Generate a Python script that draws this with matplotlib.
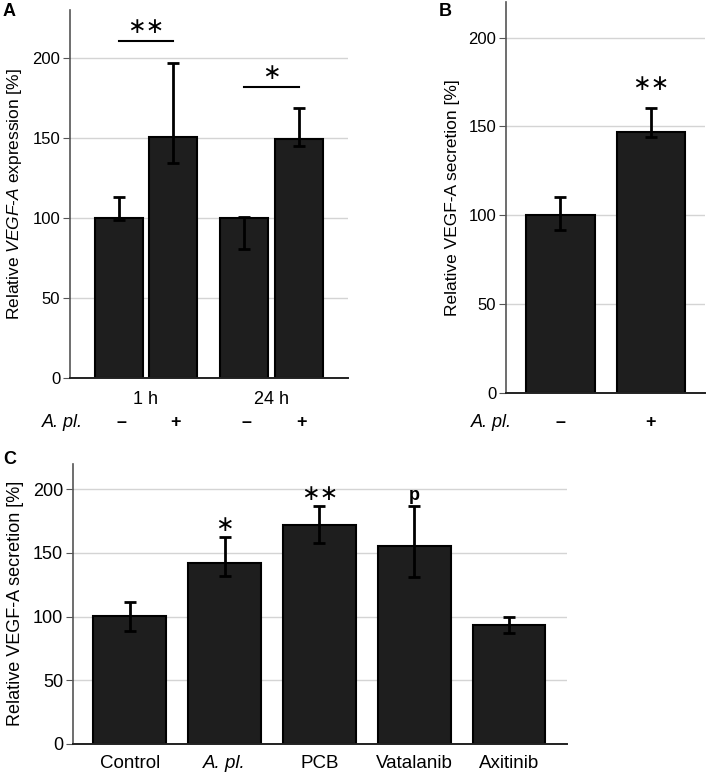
import numpy as np
import matplotlib
matplotlib.use('Agg')
import matplotlib.pyplot as plt
import matplotlib.transforms as mtransforms

plt.rcParams['font.family'] = ['Liberation Sans', 'DejaVu Sans']
plt.rcParams['mathtext.fontset'] = 'custom'
plt.rcParams['mathtext.it'] = 'Liberation Sans:italic'
plt.rcParams['mathtext.rm'] = 'Liberation Sans'

# Panel A: VEGF-A expression, 1 h and 24 h, without / with A. pl.
a_groups = ['1 h', '24 h']
a_signs = ['–', '+', '–', '+']
a_means = [100, 151, 100, 149.5]
a_err_low = [1, 16.5, 19, 4.6]
a_err_high = [13, 46, 1, 19]

# Panel B: VEGF-A secretion
b_signs = ['–', '+']
b_means = [100, 146.6]
b_err_low = [8.2, 2.4]
b_err_high = [10.5, 13.5]

# Panel C: VEGF-A secretion by treatment
c_labels = ['Control', 'A. pl.', 'PCB', 'Vatalanib', 'Axitinib']
c_means = [100.5, 142, 172, 155, 93]
c_err_low = [11.8, 10.5, 14.2, 24, 6]
c_err_high = [11.1, 20, 14.4, 32, 6.8]
c_marks = ['', '∗', '∗∗', 'p', '']

W, H = 709, 774
fig = plt.figure(figsize=(W / 100, H / 100), dpi=100)

BAR = '#1e1e1e'
GRID = '#d4d4d4'


def px_axes(l, r, t, b):
    return fig.add_axes([l / W, 1 - b / H, (r - l) / W, (b - t) / H])


def style(ax, ymax):
    ax.set_ylim(0, ymax)
    ax.set_yticks([0, 50, 100, 150, 200])
    ax.yaxis.grid(True, color=GRID, linewidth=1)
    ax.set_axisbelow(True)
    for s in ['top', 'right']:
        ax.spines[s].set_visible(False)
    ax.spines['left'].set_color('#555555')
    ax.spines['left'].set_linewidth(1.2)
    ax.spines['bottom'].set_color('#222222')
    ax.spines['bottom'].set_linewidth(1.4)
    ax.tick_params(axis='y', length=5, color='#555555', labelsize=12, pad=2)
    ax.tick_params(axis='x', length=0)


def bars(ax, x, means, lo, hi, width):
    ax.bar(x, means, width=width, color=BAR, edgecolor='black', linewidth=1.5, zorder=2)
    ax.errorbar(x, means, yerr=[lo, hi], fmt='none', ecolor='black',
                elinewidth=2, capsize=4, capthick=2, zorder=3)


# ---- Panel A
axA = px_axes(70, 348, 10, 378.3)
xa = np.array([0, 1, 2.33, 3.35])
bars(axA, xa, a_means, a_err_low, a_err_high, 0.9)
axA.set_xlim(-0.91, 4.26)
style(axA, 230)
axA.set_xticks([(xa[0] + xa[1]) / 2, (xa[2] + xa[3]) / 2])
axA.set_xticklabels(a_groups, fontsize=13)
axA.tick_params(axis='x', pad=9)
axA.set_ylabel(r'Relative $\mathit{VEGF}$-$\mathit{A}$ expression [%]', fontsize=12.5, labelpad=6)
# significance brackets
axA.plot([xa[0], xa[1]], [210.5, 210.5], color='black', lw=1.5)
axA.text((xa[0] + xa[1]) / 2, 213, '∗∗', ha='center', va='bottom', fontsize=16,
         family='DejaVu Sans')
axA.plot([xa[2], xa[3]], [182, 182], color='black', lw=1.5)
axA.text((xa[2] + xa[3]) / 2, 184.5, '∗', ha='center', va='bottom', fontsize=16,
         family='DejaVu Sans')
trA = mtransforms.blended_transform_factory(axA.transData, fig.transFigure)
for xi, s in zip(xa, a_signs):
    axA.text(xi + 0.05, 1 - 422 / H, s, transform=trA, ha='center', va='center',
             fontsize=13, fontweight='bold')
fig.text(62 / W, 1 - 422 / H, 'A. pl.', ha='center', va='center', fontsize=13, style='italic')

# ---- Panel B
axB = px_axes(506, 705, 2, 393)
xb = np.array([0, 1])
bars(axB, xb, b_means, b_err_low, b_err_high, 0.76)
axB.set_xlim(-0.602, 1.597)
style(axB, 220)
axB.set_xticks([])
axB.set_ylabel('Relative VEGF-A secretion [%]', fontsize=12.5, labelpad=6)
axB.text(xb[1], 168, '∗∗', ha='center', va='bottom', fontsize=16, family='DejaVu Sans')
trB = mtransforms.blended_transform_factory(axB.transData, fig.transFigure)
for xi, s in zip(xb, b_signs):
    axB.text(xi, 1 - 422 / H, s, transform=trB, ha='center', va='center',
             fontsize=13, fontweight='bold')
fig.text(491 / W, 1 - 422 / H, 'A. pl.', ha='center', va='center', fontsize=13, style='italic')

# ---- Panel C
axC = px_axes(72.7, 567, 463.5, 744)
xc = np.arange(len(c_labels))
bars(axC, xc, c_means, c_err_low, c_err_high, 0.765)
axC.set_xlim(-0.6, 4.61)
style(axC, 220)
axC.set_xticks(xc)
axC.set_xticklabels(c_labels, fontsize=13.5)
axC.get_xticklabels()[1].set_style('italic')
axC.tick_params(axis='x', pad=8)
axC.tick_params(axis='y', labelsize=13)
axC.set_ylabel('Relative VEGF-A secretion [%]', fontsize=13, labelpad=6)
for xi, m, hi, mk in zip(xc, c_means, c_err_high, c_marks):
    if mk == 'p':
        axC.text(xi, m + hi + 1.5, mk, ha='center', va='bottom', fontsize=13, fontweight='bold')
    elif mk:
        axC.text(xi, m + hi + 2, mk, ha='center', va='bottom', fontsize=16, family='DejaVu Sans')

# panel letters
fig.text(9 / W, 1 - 12 / H, 'A', ha='center', va='center', fontsize=13, fontweight='bold')
fig.text(445 / W, 1 - 11 / H, 'B', ha='center', va='center', fontsize=13, fontweight='bold')
fig.text(10 / W, 1 - 460 / H, 'C', ha='center', va='center', fontsize=13, fontweight='bold')

fig.savefig('out.png', dpi=100)
